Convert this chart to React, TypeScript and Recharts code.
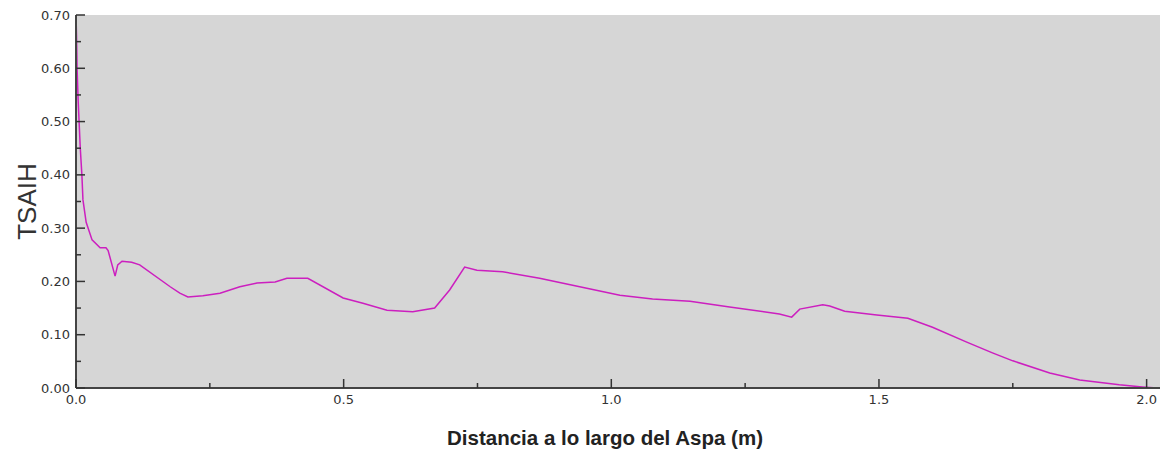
import React from "react";
import { LineChart, Line, XAxis, YAxis, CartesianGrid } from "recharts";

const distance = [
  0, 0.001, 0.002, 0.004, 0.008, 0.011, 0.013, 0.019, 0.03, 0.045, 0.056, 0.06,
  0.073, 0.078, 0.086, 0.104, 0.119, 0.176, 0.194, 0.209, 0.237, 0.269, 0.306,
  0.338, 0.372, 0.394, 0.433, 0.499, 0.536, 0.581, 0.629, 0.67, 0.698, 0.726,
  0.749, 0.797, 0.866, 0.941, 1.016, 1.077, 1.147, 1.221, 1.314, 1.337, 1.352,
  1.395, 1.408, 1.436, 1.496, 1.554, 1.6, 1.664, 1.712, 1.75, 1.819, 1.875,
  1.949, 1.992, 2.02,
];
const tsaih = [
  0.7, 0.66, 0.6, 0.54, 0.45, 0.4, 0.353, 0.311, 0.278, 0.263, 0.263, 0.258,
  0.21, 0.231, 0.238, 0.236, 0.231, 0.19, 0.178, 0.171, 0.173, 0.178, 0.19,
  0.197, 0.199, 0.206, 0.206, 0.169, 0.159, 0.146, 0.143, 0.15, 0.184, 0.227,
  0.221, 0.218, 0.206, 0.19, 0.174, 0.167, 0.163, 0.152, 0.139, 0.133, 0.148,
  0.156, 0.154, 0.144, 0.137, 0.131, 0.114, 0.086, 0.066, 0.051, 0.028, 0.015,
  0.006, 0.002, 0.0,
];
const xTicks = [0, 0.25, 0.5, 0.75, 1.0, 1.25, 1.5, 1.75, 2.0];
const xMajor = [0, 0.5, 1.0, 1.5, 2.0];
const yTicks = [0, 0.05, 0.1, 0.15, 0.2, 0.25, 0.3, 0.35, 0.4, 0.45, 0.5, 0.55, 0.6, 0.65, 0.7];
const yMajor = [0, 0.1, 0.2, 0.3, 0.4, 0.5, 0.6, 0.7];

const data = distance.map((d, i) => ({ d, v: tsaih[i] }));

const isMajor = (list: number[], v: number) => list.some((m) => Math.abs(m - v) < 1e-9);
const TICK_COLOR = "#333";
const MAJOR = 9;
const MINOR = 5;
const MARGIN = 6;
const font = "'DejaVu Sans', Verdana, sans-serif";

const BottomTick = (props: any) => {
  const { x, y, payload } = props;
  const major = isMajor(xMajor, payload.value);
  const ay = y - MARGIN;
  return (
    <g>
      <line x1={x} x2={x} y1={ay} y2={ay - (major ? MAJOR : MINOR)} stroke={TICK_COLOR} strokeWidth={1.5} />
      {major && (
        <text x={x} y={y} dy="0.8em" textAnchor="middle" fill="#333" fontSize={13} fontFamily={font}>
          {payload.value.toFixed(1)}
        </text>
      )}
    </g>
  );
};

const TopTick = (props: any) => {
  const { x, y, payload } = props;
  const major = isMajor(xMajor, payload.value);
  return <line x1={x} x2={x} y1={y} y2={y + (major ? MAJOR : MINOR)} stroke="#666" strokeWidth={1.5} />;
};

const LeftTick = (props: any) => {
  const { x, y, payload } = props;
  const major = isMajor(yMajor, payload.value);
  const ax = x + MARGIN;
  return (
    <g>
      <line x1={ax} x2={ax + (major ? MAJOR : MINOR)} y1={y} y2={y} stroke={TICK_COLOR} strokeWidth={1.5} />
      {major && (
        <text x={x} y={y} dy="0.35em" textAnchor="end" fill="#333" fontSize={13} fontFamily={font}>
          {payload.value.toFixed(2)}
        </text>
      )}
    </g>
  );
};

const RightTick = (props: any) => {
  const { x, y, payload } = props;
  const major = isMajor(yMajor, payload.value);
  return <line x1={x} x2={x - (major ? MAJOR : MINOR)} y1={y} y2={y} stroke="#666" strokeWidth={1.5} />;
};

export default function App() {
  return (
    <div style={{ position: "absolute", left: 0, top: 0, background: "#fff" }}>
      <LineChart width={1169} height={454} data={data} margin={{ top: 15, right: 9, bottom: 0, left: 0 }}>
        <CartesianGrid fill="#d6d6d6" stroke="none" horizontal={false} vertical={false} />
        <XAxis
          xAxisId="bottom"
          dataKey="d"
          type="number"
          domain={[0, 2.025]}
          ticks={xTicks}
          interval={0}
          height={66}
          tickSize={0}
          tickMargin={MARGIN}
          tick={BottomTick}
          axisLine={{ stroke: "#444", strokeWidth: 2 }}
          tickLine={false}
          allowDataOverflow
          label={{
            content: (p: any) => {
              const vb = p.viewBox;
              return (
                <text
                  x={vb.x + vb.width / 2 - 13}
                  y={vb.y + 50}
                  dy="0.35em"
                  textAnchor="middle"
                  fontSize={20.5}
                  fontWeight="bold"
                  fill="#222"
                  fontFamily="'Liberation Sans', Arial, sans-serif"
                >
                  Distancia a lo largo del Aspa (m)
                </text>
              );
            },
          }}
        />
        <XAxis
          xAxisId="top"
          orientation="top"
          dataKey="d"
          type="number"
          domain={[0, 2.025]}
          ticks={xTicks}
          interval={0}
          height={0}
          tickSize={0}
          tickMargin={0}
          tick={TopTick}
          axisLine={{ stroke: "#666", strokeWidth: 1.5 }}
          tickLine={false}
          allowDataOverflow
        />
        <YAxis
          yAxisId="left"
          type="number"
          domain={[0, 0.7]}
          ticks={yTicks}
          interval={0}
          width={76}
          tickSize={0}
          tickMargin={MARGIN}
          tick={LeftTick}
          axisLine={{ stroke: "#444", strokeWidth: 2 }}
          tickLine={false}
          allowDataOverflow
          label={{
            content: (p: any) => {
              const vb = p.viewBox;
              const cx = vb.x + 27;
              const cy = vb.y + vb.height / 2;
              return (
                <text
                  x={cx}
                  y={cy}
                  dy="0.35em"
                  textAnchor="middle"
                  transform={`rotate(-90 ${cx} ${cy})`}
                  fontSize={26}
                  fill="#333"
                  fontFamily="'Liberation Sans', Arial, sans-serif"
                >
                  TSAIH
                </text>
              );
            },
          }}
        />
        <YAxis
          yAxisId="right"
          orientation="right"
          type="number"
          domain={[0, 0.7]}
          ticks={yTicks}
          interval={0}
          width={0}
          tickSize={0}
          tickMargin={0}
          tick={RightTick}
          axisLine={{ stroke: "#555", strokeWidth: 1.5 }}
          tickLine={false}
          allowDataOverflow
        />
        <Line
          xAxisId="bottom"
          yAxisId="left"
          type="linear"
          dataKey="v"
          stroke="#cc1fbf"
          strokeWidth={1.5}
          dot={false}
          isAnimationActive={false}
        />
      </LineChart>
    </div>
  );
}
